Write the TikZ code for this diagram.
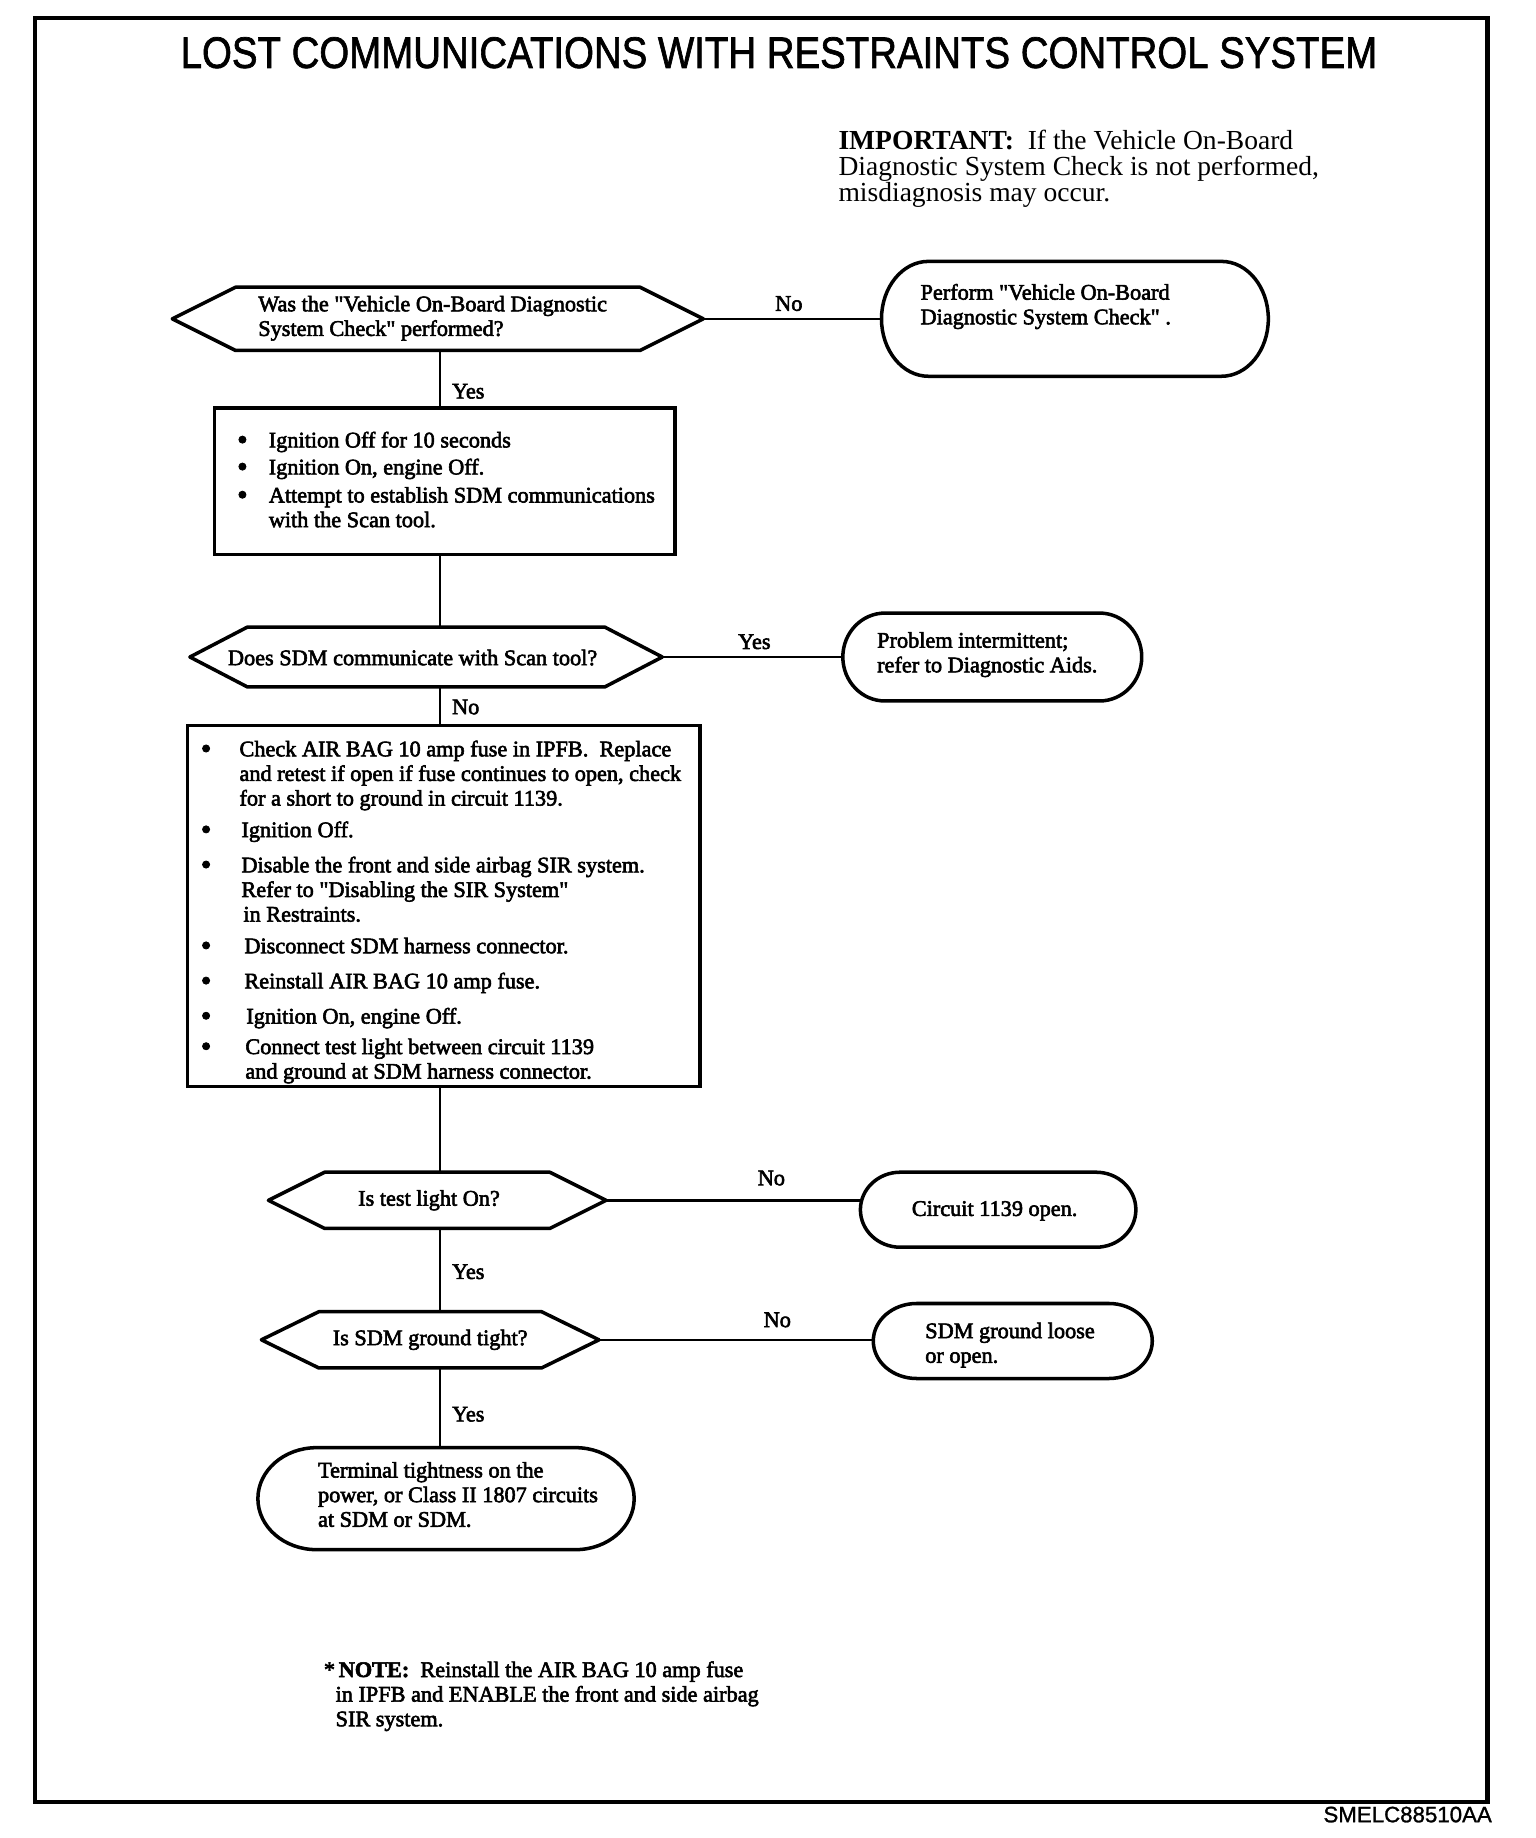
\documentclass[tikz,border=0pt]{standalone}
\usepackage{fontspec}
\usepackage{graphicx}
\setmainfont{Liberation Serif}
\newfontfamily\fcf{Liberation Serif}[FakeBold=2.6]
\newfontfamily\titlef{Liberation Sans}[FakeBold=1.6]
\newfontfamily\codef{Liberation Sans}[FakeBold=1.2]
\usetikzlibrary{fit,calc}
\newcommand\fcsize{\fcf\fontsize{11.4pt}{12.6pt}\selectfont}
\newcommand\bul{\raisebox{-1.1pt}{\scalebox{1.35}{\textbullet}}}
% name, x1, y1, x2, y2, slant
\newcommand\hexshape[6]{%
  \node[holder, fit={(#2,-#3)(#4,-#5)}] (#1) {};
  \draw[outline] (#2,{-(#3+#5)/2}) -- ({#2+#6},-#3) -- ({#4-#6},-#3) -- (#4,{-(#3+#5)/2})
    -- ({#4-#6},-#5) -- ({#2+#6},-#5) -- cycle;}
% name, x1, y1, x2, y2, rx
\newcommand\termshape[6]{%
  \node[holder, fit={(#2,-#3)(#4,-#5)}] (#1) {};
  \draw[outline] ({#2+#6},-#3) -- ({#4-#6},-#3)
    arc[start angle=90,end angle=-90,x radius=#6,y radius={(#5-#3)/2}]
    -- ({#2+#6},-#5)
    arc[start angle=270,end angle=90,x radius=#6,y radius={(#5-#3)/2}] -- cycle;}
\begin{document}
\begin{tikzpicture}[x=0.6pt,y=0.6pt,
  outline/.style={line width=1.8pt, line join=round},
  conn/.style={line width=1.2pt},
  frameline/.style={line width=2.1pt},
  holder/.style={inner sep=0pt, outer sep=0pt, draw=none},
  boxline/.style={holder, draw, line width=1.8pt},
  txt/.style={inner sep=0pt, font=\fcsize, align=left},
  vlab/.style={inner sep=0pt, font=\fcsize, anchor=west, xshift=5.5pt},
  hlab/.style={inner sep=0pt, font=\fcsize}]
\fill[white] (0,0) rectangle (1310,-1568);
\useasboundingbox (0,0) rectangle (1310,-1568);
\draw[frameline] (30,-15) rectangle (1269,-1537);

\node[inner sep=0pt, font=\titlef\fontsize{22.6pt}{24pt}\selectfont] (title) at (664.5,-45)
  {\scalebox{0.87}[1]{LOST COMMUNICATIONS WITH RESTRAINTS CONTROL SYSTEM}};

\node[anchor=west, align=left, inner sep=0pt, font=\fontsize{14.1pt}{13.2pt}\selectfont] (imp) at (715,-144)
  {\textbf{IMPORTANT:}\ \ If the Vehicle On-Board\\Diagnostic System Check is not performed,\\misdiagnosis may occur.};

% shapes
\hexshape{d1}{147}{245}{600}{299}{54}
\termshape{p1}{752}{223}{1082}{321}{40}
\node[boxline, fit={(183,-348)(576,-473)}] (b1) {};
\hexshape{d2}{162}{535}{565}{586}{49}
\termshape{p2}{719}{523}{974}{598}{36}
\node[boxline, fit={(160,-619)(597,-927)}] (b2) {};
\hexshape{d3}{229}{1000}{517}{1048}{48}
\termshape{p3}{734}{1000}{969}{1064}{34}
\hexshape{d4}{223}{1119}{511}{1167}{49}
\termshape{p4}{745}{1112}{983}{1176}{37}
\termshape{p5}{220}{1235}{541}{1322}{50}

% texts
\node[txt, anchor=west] (d1t) at (220,-271.5) {Was the "Vehicle On-Board Diagnostic\\System Check" performed?};
\node[txt, anchor=west] (p1t) at (785,-261.5) {Perform "Vehicle On-Board\\Diagnostic System Check" .};
\node[txt, anchor=west] (b1t) at (202,-411.5) {%
  \begin{tabular}{@{}p{16.2pt}@{}l@{}}
  \bul & Ignition Off for 10 seconds\\[1.2pt]
  \bul & Ignition On, engine Off.\\[1.8pt]
  \bul & Attempt to establish SDM communications\\
       & with the Scan tool.
  \end{tabular}};
\node[txt] (d2t) at (352,-561) {Does SDM communicate with Scan tool?};
\node[txt, anchor=west] (p2t) at (748,-558.5) {Problem intermittent;\\refer to Diagnostic Aids.};
\node[txt, anchor=west] (b2t) at (171,-778.5) {%
  \begin{tabular}{@{}p{19.8pt}@{}l@{}}
  \bul & Check AIR BAG 10 amp fuse in IPFB.\ \ Replace\\
       & and retest if open if fuse continues to open, check\\
       & for a short to ground in circuit 1139.\\[3.6pt]
  \bul & \hspace*{1pt}Ignition Off.\\[5.4pt]
  \bul & \hspace*{1pt}Disable the front and side airbag SIR system.\\
       & \hspace*{1pt}Refer to "Disabling the SIR System"\\
       & \hspace*{2pt}in Restraints.\\[3.6pt]
  \bul & \hspace*{2.5pt}Disconnect SDM harness connector.\\[5.4pt]
  \bul & \hspace*{2.5pt}Reinstall AIR BAG 10 amp fuse.\\[5.4pt]
  \bul & \hspace*{3.5pt}Ignition On, engine Off.\\[3pt]
  \bul & \hspace*{3pt}Connect test light between circuit 1139\\
       & \hspace*{3pt}and ground at SDM harness connector.
  \end{tabular}};
\node[txt] (d3t) at (366,-1024) {Is test light On?};
\node[txt] (p3t) at (848.5,-1033) {Circuit 1139 open.};
\node[txt] (d4t) at (367,-1143) {Is SDM ground tight?};
\node[txt, anchor=west] (p4t) at (789,-1147.5) {SDM ground loose\\or open.};
\node[txt, anchor=west] (p5t) at (271,-1275) {Terminal tightness on the\\power, or Class II 1807 circuits\\at SDM or SDM.};

\node[txt, anchor=west] (note) at (276,-1447)
  {*\,\textbf{NOTE:}\ \ Reinstall the AIR BAG 10 amp fuse\\\hspace*{6pt}in IPFB and ENABLE the front and side airbag\\\hspace*{6pt}SIR system.};

\node[anchor=east, inner sep=0pt, font=\codef\fontsize{11.4pt}{12pt}\selectfont] (code) at (1273,-1548) {SMELC88510AA};

% connectors
\coordinate (spine) at (375.5,0);
\draw[conn] (spine |- d1.south) -- node[vlab,pos=0.71]{Yes} (spine |- b1.north);
\draw[conn] (spine |- b1.south) -- (spine |- d2.north);
\draw[conn] (spine |- d2.south) -- node[vlab,pos=0.52]{No} (spine |- b2.north);
\draw[conn] (spine |- b2.south) -- (spine |- d3.north);
\draw[conn] (spine |- d3.south) -- node[vlab,pos=0.52]{Yes} (spine |- d4.north);
\draw[conn] (spine |- d4.south) -- node[vlab,pos=0.58]{Yes} (spine |- p5.north);

\draw[conn] (d1.east) -- node[hlab,pos=0.48,yshift=7.8pt]{No} (d1.east -| p1.west);
\draw[conn] (d2.east) -- node[hlab,pos=0.51,yshift=7.8pt]{Yes} (d2.east -| p2.west);
\draw[conn] (d3.east) -- node[hlab,pos=0.65,yshift=11.4pt]{No} (d3.east -| p3.west);
\draw[conn] (d4.east) -- node[hlab,pos=0.65,yshift=10.2pt]{No} (d4.east -| p4.west);
\end{tikzpicture}
\end{document}
